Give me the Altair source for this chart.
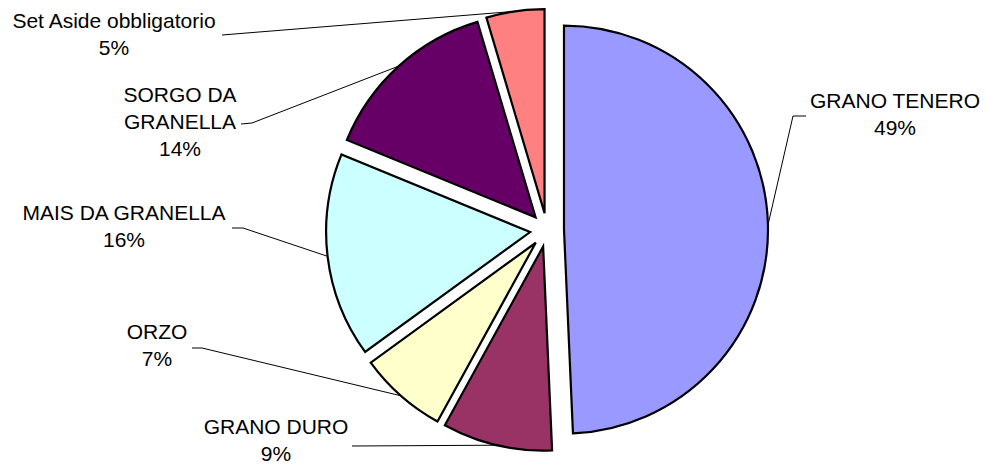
import altair as alt
import pandas as pd

# ---- data ----
categories = ["GRANO TENERO", "GRANO DURO", "ORZO", "MAIS DA GRANELLA",
              "SORGO DA GRANELLA", "Set Aside obbligatorio"]
display_names = ["GRANO TENERO", "GRANO DURO", "ORZO", "MAIS DA GRANELLA",
                 "SORGO DA\nGRANELLA", "Set Aside obbligatorio"]
values = [49.3, 8.7, 7.0, 16.2, 14.2, 4.6]
colors = ["#9999FF", "#993366", "#FFFFCC", "#CCFFFF", "#660066", "#FF8080"]

# ---- layout (page pixel coordinates) ----
OFF = 8
CX, CY, R, EXPLODE = 547 - OFF, 230 - OFF, 204, 17
label_xy = [(895, 102), (276, 428), (157, 333), (124, 214), (180, 96), (114, 22)]
leader_start = [(806, 116), (352, 446), (192, 348), (232, 228), (241, 124), (222, 35)]
leader_stub = [(793, 116), (352, 446), (202, 348), (243, 228), (252, 123), (222, 35)]

df = pd.DataFrame({
    "idx": list(range(len(categories))),
    "name": categories,
    "disp": display_names,
    "value": values,
    "tx": [p[0] - OFF for p in label_xy],
    "ty": [p[1] - OFF for p in label_xy],
    "lx": [p[0] - OFF for p in leader_start],
    "ly": [p[1] - OFF for p in leader_start],
    "sx": [p[0] - OFF for p in leader_stub],
    "sy": [p[1] - OFF for p in leader_stub],
})

base = (
    alt.Chart(df)
    .transform_joinaggregate(total="sum(value)")
    .transform_window(cum="sum(value)", sort=[alt.SortField("idx")], frame=[None, 0])
    .transform_calculate(
        a0="2*PI*(datum.cum - datum.value)/datum.total",
        a1="2*PI*datum.cum/datum.total",
    )
    .transform_calculate(am="(datum.a0 + datum.a1)/2")
    .transform_calculate(
        cx=f"{CX} + {EXPLODE}*sin(datum.am)",
        cy=f"{CY} - {EXPLODE}*cos(datum.am)",
    )
    .transform_calculate(
        ax=f"datum.cx + {R}*sin(datum.am)",
        ay=f"datum.cy - {R}*cos(datum.am)",
        txt="split(datum.disp + '\\n' + format(datum.value/datum.total, '.0%'), '\\n')",
    )
)

arcs = base.mark_arc(outerRadius=R, stroke="black", strokeWidth=2.2).encode(
    theta=alt.Theta("a0:Q", scale=None),
    theta2=alt.Theta2("a1:Q"),
    x=alt.X("cx:Q", scale=None),
    y=alt.Y("cy:Q", scale=None),
    color=alt.Color("name:N", scale=alt.Scale(domain=categories, range=colors), legend=None),
)

stub = base.mark_rule(color="black", strokeWidth=1).encode(
    x=alt.X("lx:Q", scale=None), y=alt.Y("ly:Q", scale=None),
    x2="sx:Q", y2="sy:Q",
)
diag = base.mark_rule(color="black", strokeWidth=1).encode(
    x=alt.X("sx:Q", scale=None), y=alt.Y("sy:Q", scale=None),
    x2="ax:Q", y2="ay:Q",
)
labels = base.mark_text(
    font="Liberation Sans", fontSize=21, lineHeight=27,
    align="center", baseline="middle", color="black",
).encode(
    x=alt.X("tx:Q", scale=None), y=alt.Y("ty:Q", scale=None),
    text=alt.Text("txt:N"),
)

chart = alt.layer(diag, stub, arcs, labels).properties(
    width=972, height=459, autosize="none", padding=0,
).configure_view(stroke=None)

chart.save("out.html", embed_options={"renderer": "svg", "actions": False})
